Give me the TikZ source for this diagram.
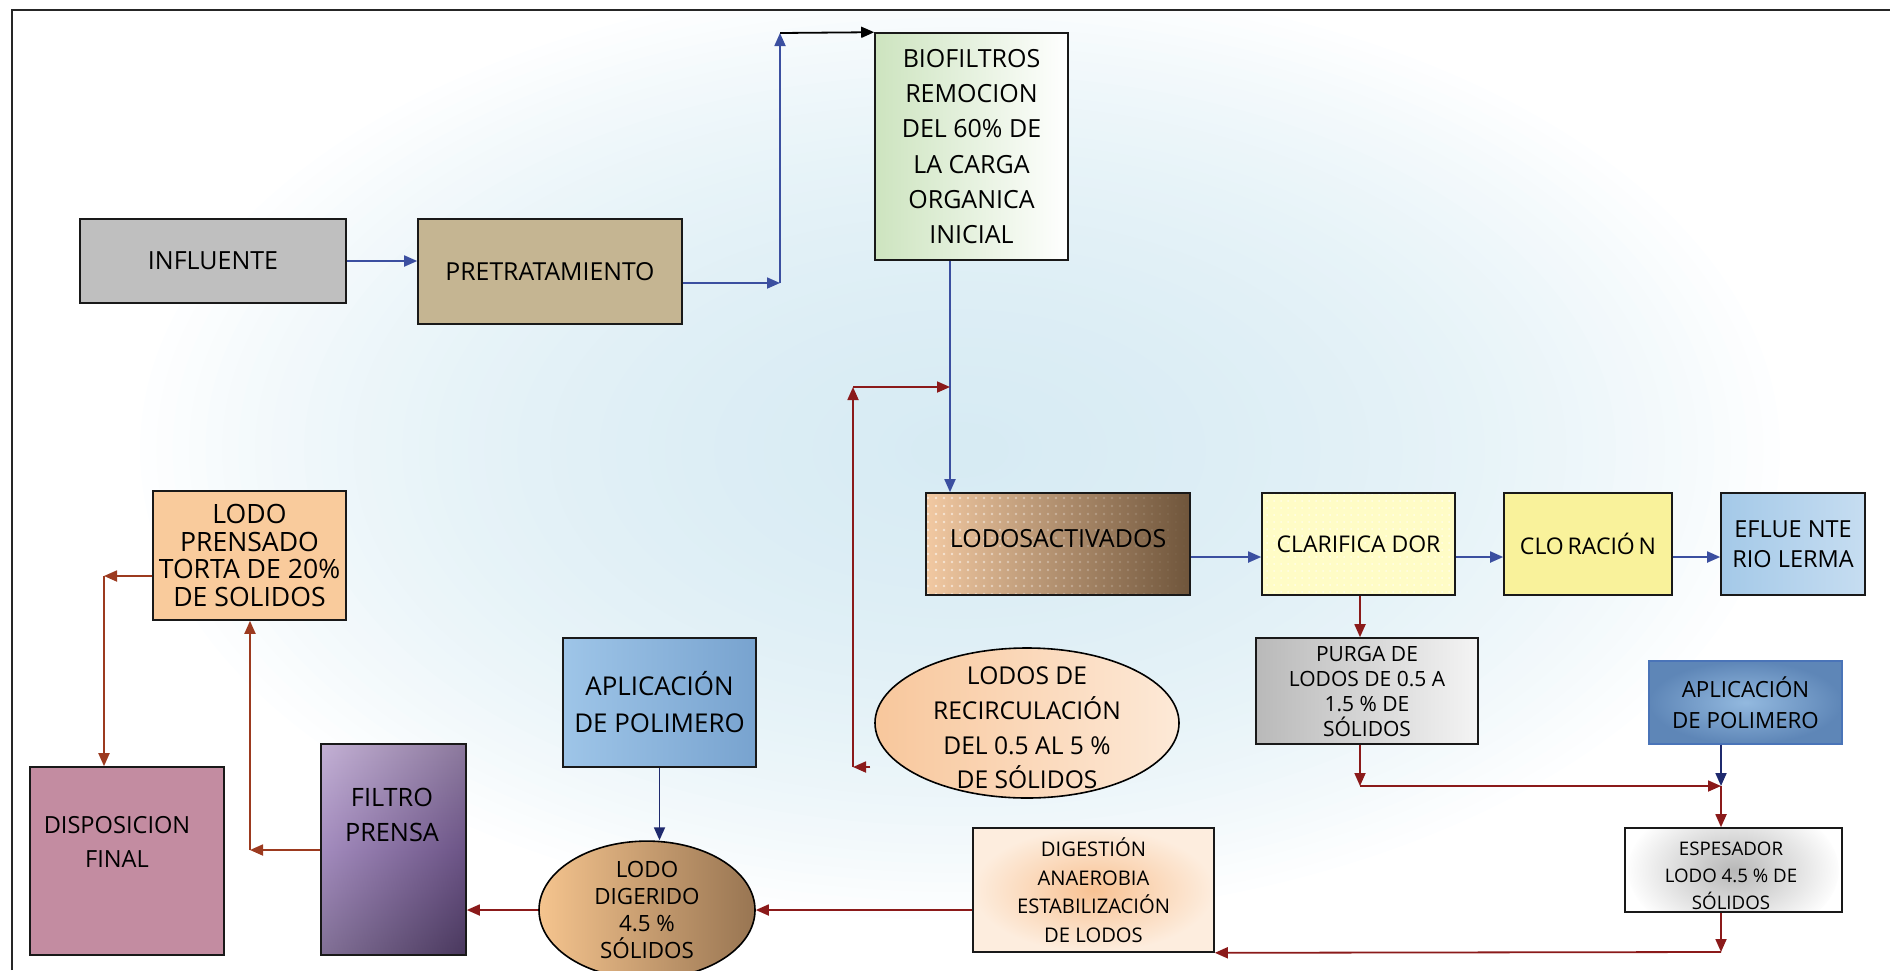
\documentclass[tikz,border=0pt]{standalone}
\usepackage{fontspec}
\setmainfont{Open Sans}
\usetikzlibrary{arrows.meta,patterns.meta,shapes.geometric,fadings}

\definecolor{bgblue}{HTML}{CFE7F1}
\definecolor{infgray}{HTML}{BFBFBF}
\definecolor{pretan}{HTML}{C5B592}
\definecolor{biogreen}{HTML}{CDE4BF}
\definecolor{lactL}{HTML}{F2C9A2}
\definecolor{lactR}{HTML}{6F553B}
\definecolor{clarY}{HTML}{FFFCC6}
\definecolor{clorY}{HTML}{F9F29B}
\definecolor{eflL}{HTML}{A4C9E8}
\definecolor{eflR}{HTML}{C6DDF1}
\definecolor{purL}{HTML}{B9B9B9}
\definecolor{purR}{HTML}{F4F4F4}
\definecolor{aprIn}{HTML}{93B9DF}
\definecolor{aprOut}{HTML}{5E86B7}
\definecolor{aprDraw}{HTML}{4A74B8}
\definecolor{digIn}{HTML}{F8C293}
\definecolor{digOut}{HTML}{FDEDDE}
\definecolor{ldL}{HTML}{F5C48E}
\definecolor{ldR}{HTML}{987552}
\definecolor{aplL}{HTML}{9EC5E8}
\definecolor{aplR}{HTML}{78A3CF}
\definecolor{fTop}{HTML}{B39BC9}
\definecolor{fMid}{HTML}{8A6CAC}
\definecolor{fBot}{HTML}{5E4878}
\definecolor{lpOr}{HTML}{F9CB9C}
\definecolor{dispM}{HTML}{C38CA1}
\definecolor{lrL}{HTML}{F8C79C}
\definecolor{lrR}{HTML}{FDE9D7}
\definecolor{lineBlue}{HTML}{3B4FA0}
\definecolor{lineRed}{HTML}{8B1A1A}
\definecolor{lineBrown}{HTML}{9C3A1F}
\definecolor{lineNavy}{HTML}{1F2A6E}

\tikzset{
  box/.style={draw=black!90, line width=1.6pt, align=center, inner sep=0pt},
  fs/.style n args={2}{font=\fontsize{#1}{#2}\selectfont},
  tip/.style={-{Triangle[length=13pt,width=11pt]}},
  barr/.style={tip, draw=lineBlue, fill=lineBlue, line width=1.8pt},
  karr/.style={tip, draw=black, fill=black, line width=1.8pt},
  rarr/.style={tip, draw=lineRed, fill=lineRed, line width=1.8pt},
  brarr/.style={tip, draw=lineBrown, fill=lineBrown, line width=1.8pt},
  narr/.style={tip, draw=lineNavy, fill=lineNavy, line width=1.8pt},
  txt/.style={align=center, inner sep=0pt}
}

\begin{document}
\begin{tikzpicture}[x=1pt,y=-1pt]
\useasboundingbox (0,0) rectangle (1890,970);
\begin{scope}
  \clip (12,10) rectangle (1890,970);
  \foreach \i in {1,...,50} {
    \fill[bgblue, opacity=0.036] (960,450) ellipse ({16.4*\i} and {9.4*\i});
  }
\end{scope}
\draw[line width=2.2pt, black!85] (12,970) -- (12,10) -- (1890,10);

% top row
\node[box, fs={25}{30}, fill=infgray, minimum width=266pt, minimum height=84pt] (infl) at (213,261) {INFLUENTE};
\node[box, fs={24.8}{30}, fill=pretan, minimum width=264pt, minimum height=105pt] (pre) at (550,271.5) {PRETRATAMIENTO};
\node[box, fs={25}{35.3}, left color=biogreen, right color=white, minimum width=193pt, minimum height=227pt] (bio) at (971.5,146.5)
  {BIOFILTROS\\REMOCION\\DEL 60\% DE\\LA CARGA\\ORGANICA\\INICIAL};

% middle row
\node[box, left color=lactL, right color=lactR, minimum width=264pt, minimum height=102pt,
  path picture={\fill[pattern={Dots[distance=8pt,radius=1.3pt]}, pattern color=white, opacity=0.6, path fading=east]
    (path picture bounding box.south west) rectangle (path picture bounding box.north east);}] (lact) at (1058,544) {};
\node[txt, fs={25}{30}] (lactT) at (1058,539) {LODOSACTIVADOS};
\node[box, fs={23}{30}, fill=clarY, minimum width=193pt, minimum height=102pt,
  path picture={\fill[pattern={Dots[distance=7pt,radius=1pt]}, pattern color=white, opacity=0.6]
    (path picture bounding box.south west) rectangle (path picture bounding box.north east);}] (clar) at (1358.5,544) {CLARIFICA DOR};
\node[box, fs={23}{30}, fill=clorY, minimum width=168pt, minimum height=102pt] (clor) at (1588,544) {CLO\,RACIÓ\,N};
\node[box, fs={23.5}{30}, left color=eflL, right color=eflR, minimum width=144pt, minimum height=102pt] (efl) at (1793,544) {EFLUE NTE\\RIO LERMA};

% right lower
\node[box, fs={21}{25}, left color=purL, right color=purR, minimum width=222pt, minimum height=106pt] (purga) at (1367,691)
  {PURGA DE\\LODOS DE 0.5 A\\1.5 \% DE\\SÓLIDOS};
\node[box, fs={22.3}{31}, draw=aprDraw, inner color=aprIn, outer color=aprOut, minimum width=193pt, minimum height=83pt] (aplr) at (1745.5,702.5)
  {APLICACIÓN\\DE POLIMERO};
\node[box, fill=white, minimum width=217pt, minimum height=84pt,
  path picture={\shade[inner color=black!28, outer color=white] (path picture bounding box.center) ellipse (105pt and 70pt);}] (esp) at (1733.5,870) {};
\node[txt, fs={18.7}{27}] (espT) at (1731,876) {ESPESADOR\\LODO 4.5 \% DE\\SÓLIDOS};
\node[box, fs={20.2}{28.5}, inner color=digIn, outer color=digOut, minimum width=241pt, minimum height=124pt] (dig) at (1093.5,890)
  {DIGESTIÓN\\ANAEROBIA\\ESTABILIZACIÓN\\DE LODOS};

% ellipses
\node[draw=black, line width=1.6pt, ellipse, inner sep=0pt, left color=lrL, right color=lrR, minimum width=304pt, minimum height=150pt] (lrec) at (1027,723) {};
\node[txt, fs={24.6}{34.6}] (lrecT) at (1027,728) {LODOS DE\\RECIRCULACIÓN\\DEL 0.5 AL 5 \%\\DE SÓLIDOS};
\node[draw=black, line width=1.6pt, ellipse, inner sep=0pt, left color=ldL, right color=ldR, minimum width=216pt, minimum height=120pt,
  align=center, fs={22.4}{27}] (ldig) at (647,910)
  {LODO\\DIGERIDO\\4.5 \%\\SÓLIDOS};

% left lower
\node[box, fs={25.9}{37}, left color=aplL, right color=aplR, minimum width=193pt, minimum height=129pt] (apll) at (659.5,702.5)
  {APLICACIÓN\\DE POLIMERO};
\node[box, top color=fTop, bottom color=fBot, middle color=fMid, minimum width=145pt, minimum height=211pt,
  path picture={\shade[left color=white, right color=black, opacity=0.22]
    (path picture bounding box.south west) rectangle (path picture bounding box.north east);}] (filt) at (393.5,849.5) {};
\node[txt, fs={25.3}{35}] (filtT) at (392,815) {FILTRO\\PRENSA};
\node[box, fs={26.6}{27.7}, fill=lpOr, minimum width=193pt, minimum height=129pt] (lpren) at (249.5,555.5)
  {LODO\\PRENSADO\\TORTA DE 20\%\\DE SOLIDOS};
\node[box, fill=dispM, minimum width=194pt, minimum height=188pt] (disp) at (127,861) {};
\node[txt, fs={23.6}{34}] (dispT) at (117,842) {DISPOSICION\\FINAL};

% coordinates
\coordinate (c1) at (780,283);
\coordinate (c2) at (780,33);
\coordinate (c3) at (950,387);
\coordinate (c4) at (870,767);
\coordinate (c5) at (853,767);
\coordinate (c6) at (853,387);
\coordinate (c7) at (1360,786);
\coordinate (c8) at (1721,786);
\coordinate (c9) at (1721,952);
\coordinate (c10) at (250,850);
\coordinate (c11) at (104,576);

% connectors
\draw[barr] (infl.east) -- (infl.east -| pre.west);
\draw[barr] (pre.east |- c1) -- (c1);
\draw[barr] (c1) -- (c2);
\draw[karr] (c2) -- (bio.north west);
\draw[barr] (bio.south -| c3) -- (c3 |- lact.north);
\draw[rarr] (c4) -- (c5);
\draw[rarr] (c5) -- (c6);
\draw[rarr] (c6) -- (c3);
\draw[barr] ([yshift=-13pt]lact.east) -- ([yshift=-13pt]lact.east -| clar.west);
\draw[barr] ([yshift=-13pt]clar.east) -- ([yshift=-13pt]clar.east -| clor.west);
\draw[barr] ([yshift=-13pt]clor.east) -- ([yshift=-13pt]clor.east -| efl.west);
\draw[rarr] (c7 |- clar.south) -- (c7 |- purga.north);
\draw[rarr] (c7 |- purga.south) -- (c7);
\draw[rarr] (c7) -- (c8);
\draw[narr] (c8 |- aplr.south) -- (c8);
\draw[rarr] (c8) -- (c8 |- esp.north);
\draw[rarr] (c8 |- esp.south) -- (c9);
\draw[rarr] (c9) -- (dig.south east);
\draw[rarr] (ldig.east -| dig.west) -- (ldig.east);
\draw[narr] (apll.south) -- (apll.south |- ldig.north);
\draw[rarr] (ldig.west) -- (ldig.west -| filt.east);
\draw[brarr] (c10 -| filt.west) -- (c10);
\draw[brarr] (c10) -- (c10 |- lpren.south);
\draw[brarr] (c11 -| lpren.west) -- (c11);
\draw[brarr] (c11) -- (c11 |- disp.north);
\end{tikzpicture}
\end{document}
